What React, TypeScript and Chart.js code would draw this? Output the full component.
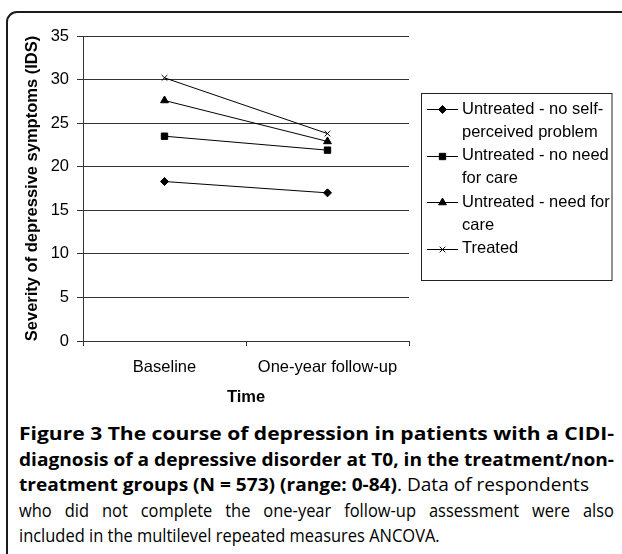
import React, { useEffect, useLayoutEffect, useRef } from "react";
import { Chart, registerables } from "chart.js";
import { drawPoint } from "chart.js/helpers";

Chart.register(...registerables);

// ---- data ----
const categories = ["Baseline", "One-year follow-up"];
const seriesLabels = [
  "Untreated - no self-perceived problem",
  "Untreated - no need for care",
  "Untreated - need for care",
  "Treated",
];
const legendLines = [
  ["Untreated - no self-", "perceived problem"],
  ["Untreated - no need", "for care"],
  ["Untreated - need for", "care"],
  ["Treated"],
];
const noProblemValues = [18.3, 17.0];
const noNeedValues = [23.5, 21.9];
const needCareValues = [27.6, 22.9];
const treatedValues = [30.2, 23.8];
const pointStyles = ["rectRot", "rect", "triangle", "crossRot"];
const pointRadii = [4, 4.5, 4.5, 4];
const yMin = 0;
const yMax = 35;
const yStep = 5;
const yTitle = "Severity of depressive symptoms (IDS)";
const xTitle = "Time";
const captionBold1 = "Figure 3 The course of depression in patients with a CIDI-";
const captionBold2 = "diagnosis of a depressive disorder at T0, in the treatment/non-";
const captionBold3 = "treatment groups (N = 573) (range: 0-84)";
const captionRest3 = ". Data of respondents";
const captionLine4 = "who did not complete the one-year follow-up assessment were also";
const captionLine5 = "included in the multilevel repeated measures ANCOVA.";
// target widths; mode "scale" = stretch glyphs, "space" = justify by word spacing, "none" = natural
const captionTargets: (number | null)[] = [595, 595, 570, 595, null];
const captionModes = ["scale", "scale", "scale", "space", "none"];
const captionSpaces = [
  captionBold1,
  captionBold2,
  captionBold3 + captionRest3,
  captionLine4,
  captionLine5,
].map((t) => t.split(" ").length - 1);

const FONT = "'Liberation Sans', Arial, sans-serif";
const GRID = "#333333";
const CAP_SCALE = 0.94;

const boxLegend = {
  id: "boxLegend",
  afterDraw(chart: any) {
    const ctx = chart.ctx as CanvasRenderingContext2D;
    ctx.save();
    ctx.strokeStyle = "#222";
    ctx.lineWidth = 1;
    ctx.strokeRect(421.5, 93.5, 190.5, 187);
    ctx.font = `16.5px ${FONT}`;
    ctx.textBaseline = "middle";
    ctx.textAlign = "left";
    let row = 0;
    const lh = 23.3;
    chart.data.datasets.forEach((ds: any, i: number) => {
      const y = 109 + row * lh;
      const ly = Math.round(y) + 0.5;
      ctx.strokeStyle = "#000";
      ctx.fillStyle = "#000";
      ctx.lineWidth = 1;
      ctx.beginPath();
      ctx.moveTo(427, ly);
      ctx.lineTo(458, ly);
      ctx.stroke();
      drawPoint(
        ctx,
        { pointStyle: ds.pointStyle, radius: ds.pointRadius, borderWidth: 1, rotation: 0 } as any,
        442.5,
        ly
      );
      ctx.fillStyle = "#000";
      legendLines[i].forEach((t, k) => {
        ctx.fillText(t, 462, y + k * lh);
      });
      row += legendLines[i].length;
    });
    ctx.restore();
  },
};

export default function App() {
  const ref = useRef<HTMLCanvasElement | null>(null);
  const lineRefs = useRef<(HTMLSpanElement | null)[]>([]);

  useLayoutEffect(() => {
    const fit = () => {
      lineRefs.current.forEach((el, i) => {
        if (!el) return;
        el.style.transform = "none";
        el.style.wordSpacing = "0px";
        const w = el.getBoundingClientRect().width;
        if (w <= 0) return;
        const target = captionTargets[i];
        const mode = captionModes[i];
        let s = CAP_SCALE;
        let ws = 0;
        if (target != null && mode === "scale") {
          s = target / w;
        } else if (target != null && mode === "space") {
          ws = (target / s - w) / captionSpaces[i];
          if (ws < 0) {
            ws = 0;
            s = target / w;
          }
        }
        el.style.wordSpacing = `${ws}px`;
        el.style.transform = `scaleX(${s})`;
      });
    };
    fit();
    if ((document as any).fonts && (document as any).fonts.ready) {
      (document as any).fonts.ready.then(fit);
    }
  }, []);

  useEffect(() => {
    if (!ref.current) return;
    Chart.defaults.font.family = FONT;
    Chart.defaults.color = "#000";
    const seriesValues = [noProblemValues, noNeedValues, needCareValues, treatedValues];
    const chart = new Chart(ref.current, {
      type: "line",
      data: {
        labels: categories,
        datasets: seriesValues.map((vals, i) => ({
          label: seriesLabels[i],
          data: vals,
          borderColor: "#000",
          backgroundColor: "#000",
          borderWidth: 1,
          pointStyle: pointStyles[i] as any,
          pointRadius: pointRadii[i],
          pointBorderWidth: 1,
          pointBackgroundColor: "#000",
          pointBorderColor: "#000",
          tension: 0,
        })),
      },
      options: {
        animation: false,
        responsive: false,
        maintainAspectRatio: false,
        devicePixelRatio: 1,
        layout: { padding: { left: 0, top: 36, right: 213, bottom: 0 } },
        plugins: {
          legend: { display: false },
          tooltip: { enabled: false },
        },
        scales: {
          x: {
            type: "category",
            offset: true,
            afterFit: (s: any) => {
              s.height = 79;
            },
            grid: {
              display: true,
              offset: true,
              drawOnChartArea: false,
              drawTicks: true,
              tickLength: 5,
              color: GRID,
            },
            border: { display: true, color: GRID, width: 1 },
            ticks: { font: { size: 16.5 }, padding: 12, color: "#000", maxRotation: 0 },
            title: {
              display: true,
              text: xTitle,
              font: { size: 16.5, weight: "bold" },
              color: "#000",
              padding: { top: 0, bottom: 12.5 },
            },
          },
          y: {
            min: yMin,
            max: yMax,
            afterFit: (s: any) => {
              s.width = 83;
            },
            grid: {
              color: GRID,
              lineWidth: 1,
              drawTicks: true,
              tickLength: 6,
            },
            border: { display: true, color: GRID, width: 1 },
            ticks: { stepSize: yStep, font: { size: 16.5 }, padding: 8, color: "#000" },
            title: {
              display: true,
              text: yTitle,
              font: { size: 16.5, weight: "bold" },
              color: "#000",
              padding: { top: 23, bottom: 0 },
            },
          },
        },
      },
      plugins: [boxLegend],
    } as any);
    return () => chart.destroy();
  }, []);

  const lineBox: React.CSSProperties = {
    whiteSpace: "nowrap",
    height: 25.5,
    lineHeight: "25.5px",
  };
  const span: React.CSSProperties = {
    display: "inline-block",
    whiteSpace: "nowrap",
    transformOrigin: "0 50%",
  };
  const setRef = (i: number) => (el: HTMLSpanElement | null) => {
    lineRefs.current[i] = el;
  };

  return (
    <div
      style={{
        position: "fixed",
        left: 0,
        top: 0,
        width: 622,
        height: 554,
        background: "#fff",
        overflow: "hidden",
      }}
    >
      <div
        style={{
          position: "absolute",
          left: 6,
          top: 11,
          width: 700,
          height: 700,
          border: "2px solid #1a1a1a",
          borderRadius: 11,
          boxSizing: "border-box",
        }}
      />
      <canvas
        ref={ref}
        width={622}
        height={420}
        style={{ position: "absolute", left: 0, top: 0, width: 622, height: 420 }}
      />
      <div
        style={{
          position: "absolute",
          left: 19,
          top: 421,
          width: 700,
          fontFamily: "'Open Sans', sans-serif",
          fontSize: 17.5,
          color: "#000",
        }}
      >
        <div style={lineBox}>
          <span ref={setRef(0)} style={{ ...span, fontWeight: 700 }}>{captionBold1}</span>
        </div>
        <div style={lineBox}>
          <span ref={setRef(1)} style={{ ...span, fontWeight: 700 }}>{captionBold2}</span>
        </div>
        <div style={lineBox}>
          <span ref={setRef(2)} style={span}>
            <b>{captionBold3}</b>
            {captionRest3}
          </span>
        </div>
        <div style={lineBox}>
          <span ref={setRef(3)} style={span}>{captionLine4}</span>
        </div>
        <div style={lineBox}>
          <span ref={setRef(4)} style={span}>{captionLine5}</span>
        </div>
      </div>
    </div>
  );
}
